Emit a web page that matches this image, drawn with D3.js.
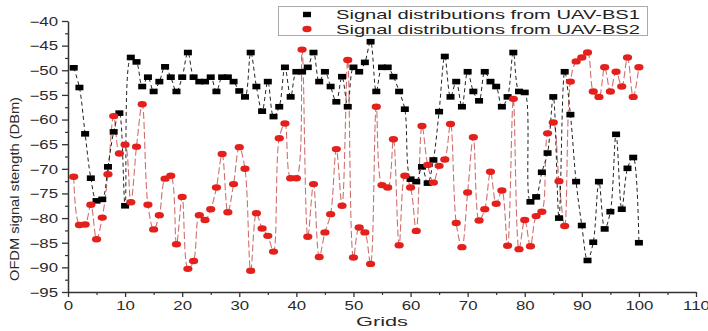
<!DOCTYPE html>
<html>
<head>
<meta charset="utf-8">
<script src="https://cdn.jsdelivr.net/npm/d3@7"></script>
<style>
  html, body { margin: 0; padding: 0; background: #fff; }
  svg { display: block; }
  text { font-family: "Liberation Sans", Arial, sans-serif; fill: #222; }
</style>
</head>
<body>
<svg id="chart" width="708" height="331"></svg>
<script>
// ---- data ----
const grids = d3.range(1, 101);
const bs1 = [
  -49.5, -53.5, -62.9, -71.9, -76.5, -76.2, -69.6, -62.5, -58.7, -77.5,
  -47.4, -48.3, -53.3, -51.4, -54.3, -52.3, -49.3, -51.4, -54.3, -51.4,
  -46.4, -51.4, -52.3, -52.3, -51.4, -54.3, -51.4, -51.4, -52.3, -54.2,
  -55.4, -46.4, -53.3, -58.3, -52.3, -59.4, -57.4, -49.4, -55.4, -50.3,
  -50.3, -49.4, -46.4, -52.3, -50.3, -53.3, -56.4, -51.3, -57.4, -49.4,
  -50.3, -48.4, -44.2, -54.3, -49.4, -49.4, -51.3, -54.3, -57.9, -72.1,
  -72.6, -69.6, -72.9, -68.2, -58.4, -47.2, -55.4, -52.3, -57.4, -50.3,
  -54.3, -56.2, -50.3, -52.3, -53.3, -57.4, -55.4, -46.4, -54.3, -54.5,
  -76.7, -75.7, -70.7, -66.8, -55.4, -80.0, -50.3, -59.0, -72.6, -81.5,
  -88.6, -84.9, -72.6, -82.2, -78.7, -63.0, -78.2, -69.9, -67.7, -85.0
];
const bs2 = [
  -71.6, -81.4, -81.3, -77.3, -84.3, -79.9, -71.1, -59.3, -66.9, -65.1,
  -76.8, -65.5, -56.9, -77.3, -82.3, -79.4, -72.0, -71.4, -85.3, -75.7,
  -90.3, -88.7, -79.4, -80.4, -78.2, -73.8, -67.0, -78.8, -73.1, -65.6,
  -70.0, -90.7, -79.0, -82.1, -83.6, -86.8, -63.8, -60.8, -71.9, -71.9,
  -45.8, -83.8, -73.1, -87.9, -82.9, -79.2, -66.0, -77.5, -47.9, -88.0,
  -81.9, -82.9, -89.3, -57.4, -73.3, -73.8, -64.0, -85.5, -71.4, -73.8,
  -82.6, -61.3, -69.2, -72.8, -69.4, -68.1, -60.9, -81.0, -85.9, -74.8,
  -63.6, -80.5, -78.2, -70.6, -77.1, -74.4, -85.6, -55.8, -86.3, -80.4,
  -85.7, -79.6, -78.7, -62.8, -60.6, -72.5, -81.6, -52.3, -48.2, -47.4,
  -46.4, -54.3, -55.4, -49.4, -54.3, -50.3, -53.3, -47.4, -55.4, -49.4
];
const xTicks = [0, 10, 20, 30, 40, 50, 60, 70, 80, 90, 100, 110];
const yTicks = [-95, -90, -85, -80, -75, -70, -65, -60, -55, -50, -45, -40];
const seriesNames = ["Signal distributions from UAV-BS1", "Signal distributions from UAV-BS2"];
const xTitle = "Grids";
const yTitle = "OFDM signal stength (DBm)";

// ---- drawing ----
const svg = d3.select("#chart");
const x = d3.scaleLinear().domain([0, 110]).range([68, 696]);
const y = d3.scaleLinear().domain([-95, -40]).range([292, 21]);

function stretch(sel, k) {
  sel.each(function () {
    const w = this.getComputedTextLength();
    this.setAttribute("textLength", (w * k).toFixed(1));
    this.setAttribute("lengthAdjust", "spacingAndGlyphs");
  });
}

// minor ticks
svg.append("g")
  .attr("transform", `translate(0,${y(-95)})`)
  .call(d3.axisBottom(x).tickValues(d3.range(5, 110, 10)).tickSize(3).tickFormat(""))
  .call(g => g.select(".domain").remove())
  .call(g => g.selectAll("line").attr("stroke", "#333").attr("stroke-width", 1.2));
svg.append("g")
  .attr("transform", `translate(${x(0)},0)`)
  .call(d3.axisLeft(y).tickValues(d3.range(-92.5, -40, 5)).tickSize(3).tickFormat(""))
  .call(g => g.select(".domain").remove())
  .call(g => g.selectAll("line").attr("stroke", "#333").attr("stroke-width", 1.2));

// major axes
const xAxis = svg.append("g")
  .attr("transform", `translate(0,${y(-95)})`)
  .call(d3.axisBottom(x).tickValues(xTicks).tickSize(5).tickPadding(4).tickSizeOuter(0));
const yAxis = svg.append("g")
  .attr("transform", `translate(${x(0)},0)`)
  .call(d3.axisLeft(y).tickValues(yTicks).tickSize(6).tickPadding(4).tickSizeOuter(0));
[xAxis, yAxis].forEach(g => {
  g.select(".domain").attr("stroke", "#333").attr("stroke-width", 1.5);
  g.selectAll("line").attr("stroke", "#333").attr("stroke-width", 1.3);
  g.selectAll("text").style("font-size", "12px").style("fill", "#2a2a2a")
    .style("font-family", "'Liberation Sans', Arial, sans-serif");
});
yAxis.selectAll("text").attr("dy", "0.36em");
stretch(xAxis.selectAll("text"), 1.4);
stretch(yAxis.selectAll("text"), 1.4);

// lines
const line = (vals) => d3.line()
  .x((d, i) => x(grids[i]))
  .y(d => y(d))
  .curve(d3.curveCatmullRom.alpha(0.5))(vals);

svg.append("path").attr("d", line(bs2))
  .attr("fill", "none").attr("stroke", "#c9605e").attr("stroke-width", 1.1)
  .attr("stroke-dasharray", "7,3").attr("opacity", 0.9);
svg.append("path").attr("d", line(bs1))
  .attr("fill", "none").attr("stroke", "#222").attr("stroke-width", 1)
  .attr("stroke-dasharray", "4,3");

// markers
svg.append("g").selectAll("rect").data(bs1).join("rect")
  .attr("x", (d, i) => x(grids[i]) - 4)
  .attr("y", d => y(d) - 2.8)
  .attr("width", 8).attr("height", 5.6)
  .attr("fill", "#000");
svg.append("g").selectAll("ellipse").data(bs2).join("ellipse")
  .attr("cx", (d, i) => x(grids[i]))
  .attr("cy", d => y(d))
  .attr("rx", 4.6).attr("ry", 3.2)
  .attr("fill", "#e3201c");

// legend
const lg = svg.append("g");
lg.append("rect").attr("x", 278.5).attr("y", 6.5).attr("width", 369).attr("height", 29)
  .attr("fill", "#fff").attr("stroke", "#aaa").attr("stroke-width", 1);
lg.append("rect").attr("x", 303).attr("y", 11.8).attr("width", 8).attr("height", 5.4).attr("fill", "#000");
lg.append("ellipse").attr("cx", 307).attr("cy", 29).attr("rx", 4.6).attr("ry", 3.2).attr("fill", "#e3201c");
const lt = lg.selectAll("text.lt").data(seriesNames).join("text")
  .attr("class", "lt")
  .attr("x", 336)
  .attr("y", (d, i) => 14.5 + i * 14.5)
  .attr("dy", "0.35em")
  .style("font-size", "13px")
  .text(d => d)
  .attr("textLength", 304).attr("lengthAdjust", "spacingAndGlyphs");

// axis titles
svg.append("text").attr("x", 382).attr("y", 326)
  .attr("text-anchor", "middle").style("font-size", "13px").style("fill", "#2a2a2a")
  .text(xTitle).attr("textLength", 52).attr("lengthAdjust", "spacingAndGlyphs");
svg.append("text")
  .attr("transform", `translate(19,${189}) rotate(-90)`)
  .attr("text-anchor", "middle").style("font-size", "13px").style("fill", "#2a2a2a")
  .text(yTitle).attr("textLength", 184).attr("lengthAdjust", "spacingAndGlyphs");
</script>
</body>
</html>
